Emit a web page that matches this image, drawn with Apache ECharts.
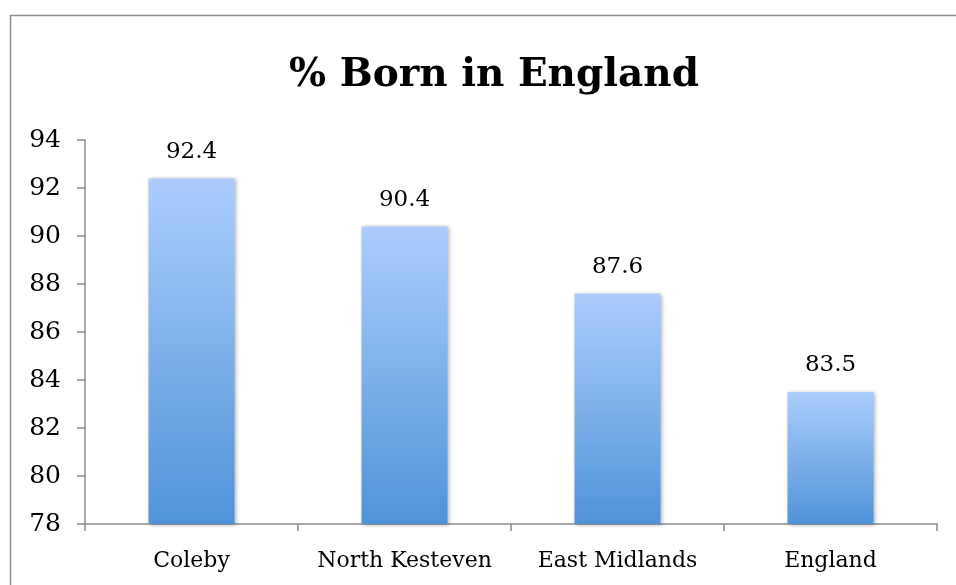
<!DOCTYPE html>
<html>
<head>
<meta charset="utf-8">
<script src="https://cdn.jsdelivr.net/npm/echarts@6/dist/echarts.min.js"></script>
<style>
  html, body { margin: 0; padding: 0; background: #fff; }
  #chart { width: 956px; height: 585px; }
</style>
</head>
<body>
<div id="chart"></div>
<script>
// data
var categories = ['Coleby', 'North Kesteven', 'East Midlands', 'England'];
var bornInEngland = [92.4, 90.4, 87.6, 83.5];
var yMin = 78, yMax = 94, yStep = 2;

var serif = '"DejaVu Serif", "Liberation Serif", serif';

var myChart = echarts.init(document.getElementById('chart'));

var option = {
  backgroundColor: '#fff',
  animation: false,
  title: {
    text: '% Born in England',
    left: 489,
    top: 51,
    textAlign: 'center',
    textStyle: {
      fontFamily: serif,
      fontWeight: 'bold',
      fontSize: 39,
      color: '#000'
    }
  },
  // outer frame, only top and left edges show
  graphic: [{
    type: 'rect',
    shape: { x: 10.5, y: 15.5, width: 1200, height: 1200 },
    style: { fill: 'none', stroke: '#8e8e8e', lineWidth: 1.5 },
    silent: true
  }],
  grid: { left: 85, right: 19, top: 140, bottom: 61 },
  xAxis: {
    type: 'category',
    data: categories,
    axisLine: { lineStyle: { color: '#8c8c8c', width: 1.5 } },
    axisTick: { show: true, interval: 0, length: 7, lineStyle: { color: '#8c8c8c', width: 1.5 } },
    axisLabel: { interval: 0, color: '#000', fontFamily: serif, fontSize: 22, margin: 26 }
  },
  yAxis: {
    type: 'value',
    min: yMin,
    max: yMax,
    interval: yStep,
    splitLine: { show: false },
    axisLine: { show: true, lineStyle: { color: '#8c8c8c', width: 1.5 } },
    axisTick: { show: true, length: 8, lineStyle: { color: '#8c8c8c', width: 1.5 } },
    axisLabel: { color: '#000', fontFamily: serif, fontSize: 25, margin: 24 }
  },
  series: [{
    name: '% Born in England',
    type: 'bar',
    data: bornInEngland,
    barWidth: 86,
    itemStyle: {
      color: new echarts.graphic.LinearGradient(0, 0, 0, 1, [
        { offset: 0, color: '#abcdfd' },
        { offset: 0.5, color: '#7eb0ea' },
        { offset: 1, color: '#4f93d9' }
      ]),
      shadowColor: 'rgba(0,0,0,0.3)',
      shadowBlur: 4,
      shadowOffsetX: 1,
      shadowOffsetY: 1
    },
    label: {
      show: true,
      position: 'top',
      distance: 15,
      color: '#000',
      fontFamily: serif,
      fontSize: 23
    }
  }]
};

myChart.setOption(option);
</script>
</body>
</html>
